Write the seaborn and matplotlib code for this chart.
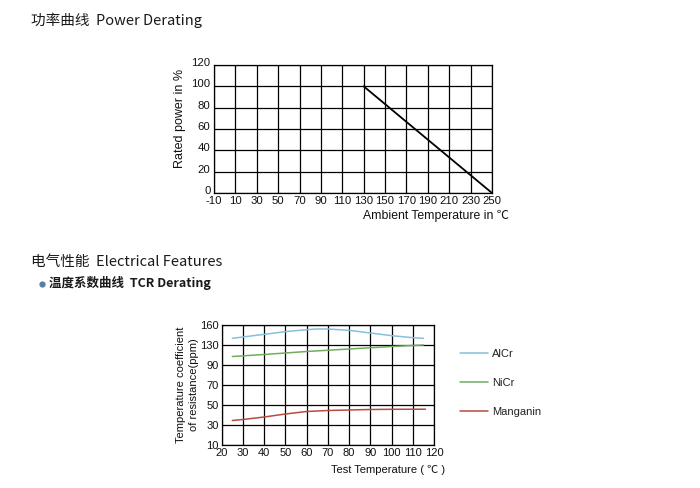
import numpy as np
import pandas as pd
import matplotlib
matplotlib.use("Agg")
import matplotlib.pyplot as plt
from matplotlib.lines import Line2D
from matplotlib.transforms import ScaledTranslation
import seaborn as sns

# ---------------- data ----------------
power_xticks = [-10, 10, 30, 50, 70, 90, 110, 130, 150, 170, 190, 210, 230, 250]
power_yticks = [0, 20, 40, 60, 80, 100, 120]
derate_temp = [130, 250]
derate_power = [100, 0]

tcr_xticks = [20, 30, 40, 50, 60, 70, 80, 90, 100, 110, 120]
tcr_yticks = [10, 30, 50, 70, 90, 130, 160]

alcr_temp = [25, 30, 40, 50, 60, 65, 70, 80, 90, 100, 110, 115]
alcr_ppm = [140, 142, 146, 150, 153, 154, 154, 152, 148, 144, 141, 140]
nicr_temp = [25, 40, 60, 80, 100, 115]
nicr_ppm = [107, 111, 117, 122, 127, 130]
mang_temp = [25, 30, 40, 50, 60, 70, 80, 90, 100, 116]
mang_ppm = [34.5, 35.5, 38, 41, 43.5, 44.5, 45, 45.5, 45.7, 45.8]

series_names = ["AlCr", "NiCr", "Manganin"]
series_colors = ["#86c0da", "#6fae5e", "#b84a3e"]

# ---------------- style ----------------
sns.set_style("white")
plt.rcParams["font.family"] = ["Liberation Sans", "Noto Sans CJK SC", "DejaVu Sans"]
plt.rcParams["axes.unicode_minus"] = False

fig = plt.figure(figsize=(7.0, 4.88), dpi=100)

cjk = ["Noto Sans CJK SC", "DejaVu Sans"]
fig.text(31 / 700, 1 - 20 / 488, "功率曲线  Power Derating", family=cjk,
         fontsize=10.5, va="center", ha="left", color="#1a1a1a")
fig.text(31 / 700, 1 - 262 / 488, "电气性能  Electrical Features", family=cjk,
         fontsize=10.5, va="center", ha="left", color="#1a1a1a")
fig.text(49 / 700, 1 - 283 / 488, "温度系数曲线  TCR Derating", family=cjk,
         fontsize=9, fontweight="bold", va="center", ha="left", color="#1a1a1a")
fig.add_artist(Line2D([42 / 700], [1 - 284 / 488], marker="o", markersize=3.5,
                      color="#5b7ea6", transform=fig.transFigure))

# ---------------- chart 1 ----------------
ax1 = fig.add_axes([214 / 700, 1 - 193 / 488, 278 / 700, 128 / 488])
df1 = pd.DataFrame({"temp": derate_temp, "power": derate_power})
sns.lineplot(data=df1, x="temp", y="power", ax=ax1, color="black", linewidth=1.3)
ax1.set_xlim(-10, 250)
ax1.set_ylim(0, 120)
ax1.set_xticks(power_xticks)
ax1.set_yticks(power_yticks)
ax1.grid(True, color="black", linewidth=0.9)
for s in ax1.spines.values():
    s.set_color("black")
    s.set_linewidth(0.9)
ax1.tick_params(length=0, labelsize=8.2, pad=2.5, colors="#111111")
shift_up = ScaledTranslation(0, 3 / 100, fig.dpi_scale_trans)
for lab in ax1.get_yticklabels():
    lab.set_transform(lab.get_transform() + shift_up)
ax1.set_ylabel("Rated power in %", fontsize=9, color="#111111")
ax1.yaxis.set_label_coords(-0.100, 0.58)
ax1.set_xlabel("Ambient Temperature in ℃", fontsize=8.8, color="#111111")
ax1.xaxis.label.set_va("center")
ax1.xaxis.set_label_coords(0.80, -0.178)

# ---------------- chart 2 ----------------
ax2 = fig.add_axes([221.7 / 700, 1 - 445 / 488, 212.3 / 700, 120 / 488])
idx = np.arange(len(tcr_yticks), dtype=float)
tv = np.array(tcr_yticks, dtype=float)


def fwd(v):
    return np.interp(v, tv, idx)


def inv(p):
    return np.interp(p, idx, tv)


ax2.set_yscale("function", functions=(fwd, inv))
df2 = pd.concat([
    pd.DataFrame({"temp": alcr_temp, "ppm": alcr_ppm, "alloy": "AlCr"}),
    pd.DataFrame({"temp": nicr_temp, "ppm": nicr_ppm, "alloy": "NiCr"}),
    pd.DataFrame({"temp": mang_temp, "ppm": mang_ppm, "alloy": "Manganin"}),
])
sns.lineplot(data=df2, x="temp", y="ppm", hue="alloy", hue_order=series_names,
             palette=series_colors, ax=ax2, linewidth=1.1)
ax2.set_xlim(20, 120)
ax2.set_ylim(10, 160)
ax2.set_xticks(tcr_xticks)
ax2.set_yticks(tcr_yticks)
ax2.set_yticklabels([str(v) for v in tcr_yticks])
ax2.yaxis.set_minor_locator(matplotlib.ticker.NullLocator())
ax2.grid(True, color="black", linewidth=0.9)
for s in ax2.spines.values():
    s.set_color("black")
    s.set_linewidth(0.9)
ax2.tick_params(length=0, labelsize=8, pad=2, colors="#111111")
ax2.set_ylabel("Temperature coefficient\nof resistance(ppm)", fontsize=8,
               linespacing=1.45, color="#111111")
ax2.yaxis.set_label_coords(-0.105, 0.5)
ax2.set_xlabel("Test Temperature ( ℃ )", fontsize=8, color="#111111")
ax2.xaxis.label.set_va("center")
ax2.xaxis.set_label_coords(0.783, -0.208)

leg = ax2.legend(loc="upper left", bbox_to_anchor=(460 / 700, 1 - 349 / 488),
                 bbox_transform=fig.transFigure, frameon=False, fontsize=8,
                 handlelength=2.5, handletextpad=0.35, labelspacing=1.7,
                 borderpad=0, borderaxespad=0)
for t in leg.get_texts():
    t.set_color("#222222")

fig.savefig("out.png", dpi=100)
